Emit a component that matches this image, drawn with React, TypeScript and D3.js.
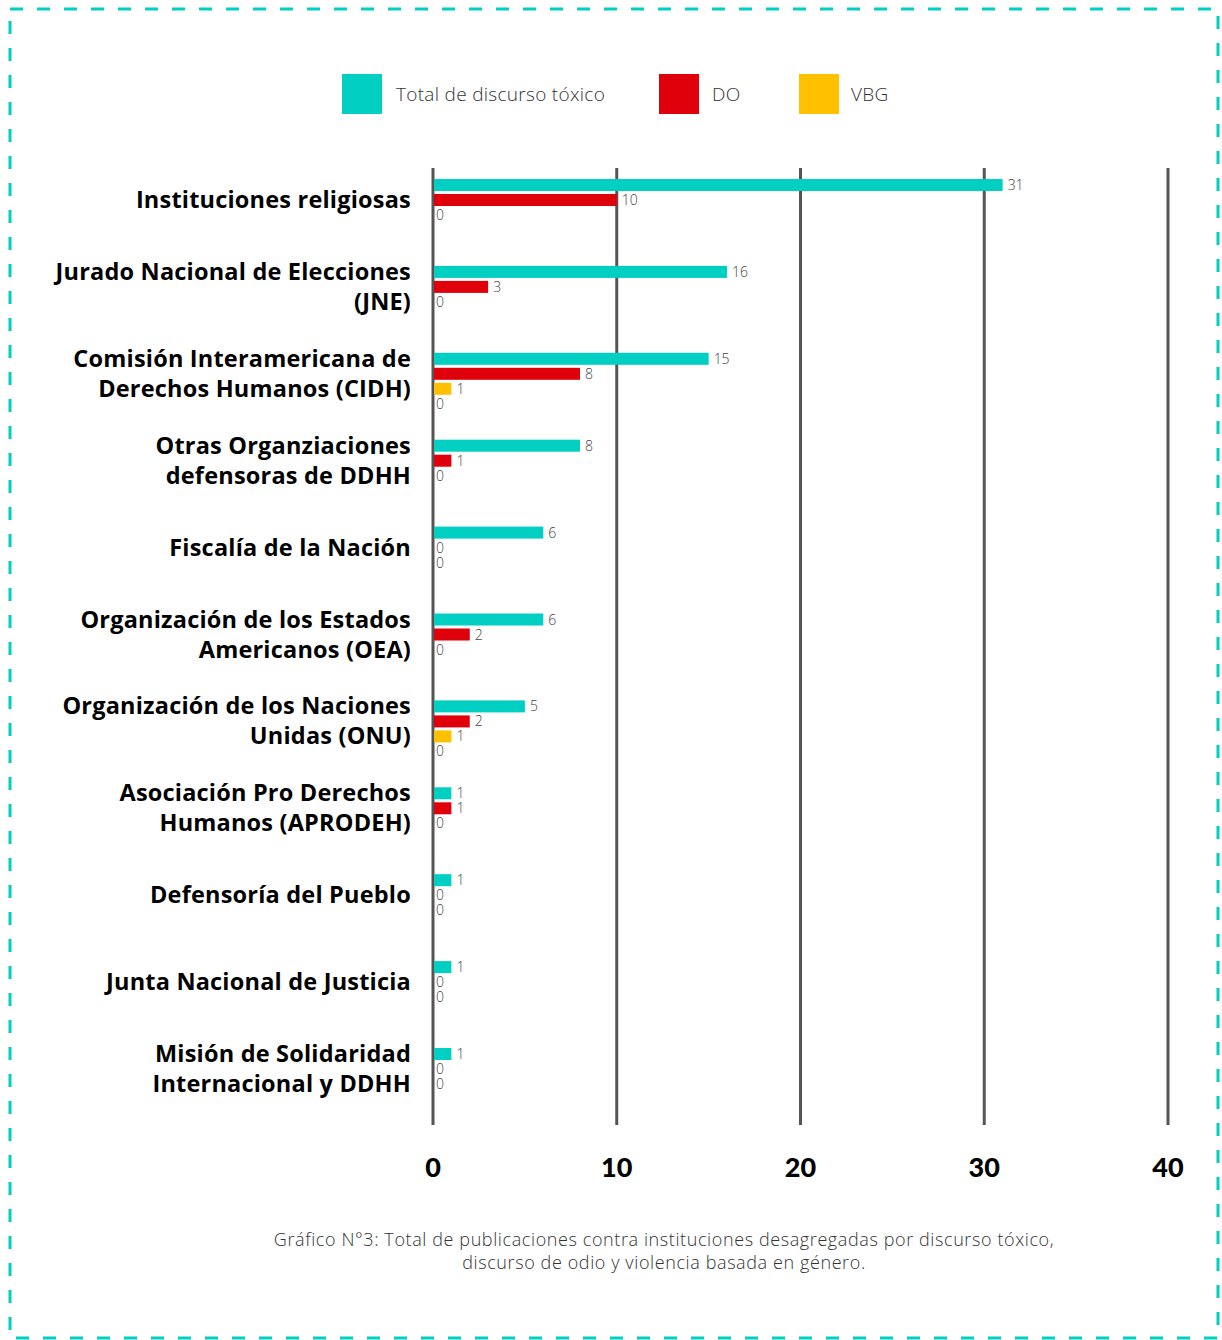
import { useEffect, useRef } from "react";
import * as d3 from "d3";

// categories (each entry is the lines of the label)
const categories = [
  ["Instituciones religiosas"],
  ["Jurado Nacional de Elecciones", "(JNE)"],
  ["Comisión Interamericana de", "Derechos Humanos (CIDH)"],
  ["Otras Organziaciones", "defensoras de DDHH"],
  ["Fiscalía de la Nación"],
  ["Organización de los Estados", "Americanos (OEA)"],
  ["Organización de los Naciones", "Unidas (ONU)"],
  ["Asociación Pro Derechos", "Humanos (APRODEH)"],
  ["Defensoría del Pueblo"],
  ["Junta Nacional de Justicia"],
  ["Misión de Solidaridad", "Internacional y DDHH"],
];

const totalValues = [31, 16, 15, 8, 6, 6, 5, 1, 1, 1, 1];
const doValues = [10, 3, 8, 1, 0, 2, 2, 1, 0, 0, 0];
const vbgValues = [0, 0, 1, 0, 0, 0, 1, 0, 0, 0, 0];
// fourth unnamed row that only appears in some categories
const otherValues = [null, null, 0, null, null, null, 0, null, null, null, null];

const xTicks = [0, 10, 20, 30, 40];

const seriesKeys = ["total", "do", "vbg", "other"];
const seriesColors = {
  total: "#00CFC2",
  do: "#E0000B",
  vbg: "#FFC000",
  other: "#999999",
};

const legendItems = [
  { key: "total", label: "Total de discurso tóxico" },
  { key: "do", label: "DO" },
  { key: "vbg", label: "VBG" },
];

const captionLines = [
  "Gráfico N°3: Total de publicaciones contra instituciones desagregadas por discurso tóxico,",
  "discurso de odio y violencia basada en género.",
];

export default function App() {
  const ref = useRef(null);

  useEffect(() => {
    const width = 1222;
    const height = 1340;
    const font = "'Open Sans', 'DejaVu Sans', sans-serif";
    const tickFont = "Lato, 'DejaVu Sans', sans-serif";

    const root = d3.select(ref.current);
    root.selectAll("*").remove();

    const svg = root
      .append("svg")
      .attr("width", width)
      .attr("height", height)
      .style("position", "absolute")
      .style("left", 0)
      .style("top", 0)
      .style("background", "#fff");

    // dashed frame
    svg
      .append("rect")
      .attr("x", 10)
      .attr("y", 9)
      .attr("width", 1208)
      .attr("height", 1329)
      .attr("fill", "none")
      .attr("stroke", "#00CFC2")
      .attr("stroke-width", 3)
      .attr("stroke-dasharray", "13 14");

    // scales
    const x = d3.scaleLinear().domain([0, 40]).range([433, 1168]);

    const keys = categories.map((c) => c.join(" "));
    const y0 = d3
      .scaleBand()
      .domain(keys)
      .range([179, 179 + 86.9 * categories.length])
      .padding(0);

    const y1 = d3
      .scaleBand()
      .domain(seriesKeys)
      .range([0, 57])
      .paddingInner(0.2)
      .paddingOuter(0);

    // gridlines
    svg
      .append("g")
      .selectAll("line")
      .data(xTicks)
      .join("line")
      .attr("x1", (d) => x(d))
      .attr("x2", (d) => x(d))
      .attr("y1", 168)
      .attr("y2", 1125)
      .attr("stroke", "#555")
      .attr("stroke-width", 3);

    // tick labels
    svg
      .append("g")
      .selectAll("text")
      .data(xTicks)
      .join("text")
      .attr("x", (d) => x(d))
      .attr("y", 1177)
      .attr("text-anchor", "middle")
      .attr("font-family", tickFont)
      .attr("font-weight", 900)
      .attr("font-size", 27)
      .attr("fill", "#000")
      .text((d) => d);

    const rows = categories.map((c, i) => ({
      key: keys[i],
      lines: c,
      values: [
        { s: "total", v: totalValues[i] },
        { s: "do", v: doValues[i] },
        { s: "vbg", v: vbgValues[i] },
        { s: "other", v: otherValues[i] },
      ].filter((d) => d.v !== null),
    }));

    const groups = svg
      .append("g")
      .selectAll("g")
      .data(rows)
      .join("g")
      .attr("transform", (d) => `translate(0,${y0(d.key)})`);

    // bars
    groups
      .selectAll("rect")
      .data((d) => d.values.filter((v) => v.v > 0))
      .join("rect")
      .attr("x", x(0) + 1)
      .attr("y", (d) => y1(d.s))
      .attr("width", (d) => x(d.v) - x(0) - 1)
      .attr("height", y1.bandwidth())
      .attr("fill", (d) => seriesColors[d.s]);

    // value labels
    groups
      .selectAll("text.val")
      .data((d) => d.values)
      .join("text")
      .attr("class", "val")
      .attr("x", (d) => (d.v > 0 ? x(d.v) + 5 : x(0) + 3))
      .attr("y", (d) => y1(d.s) + y1.bandwidth() / 2 + 5)
      .attr("font-family", font)
      .attr("font-weight", 300)
      .attr("font-size", 14)
      .attr("fill", "#444")
      .text((d) => d.v);

    // category labels
    const labelCenter = y1.step() + y1.bandwidth() / 2;
    groups.each(function (d) {
      const g = d3.select(this);
      const n = d.lines.length;
      d.lines.forEach((line, j) => {
        g.append("text")
          .attr("x", 411)
          .attr("y", labelCenter + (j - (n - 1) / 2) * 30 + 8)
          .attr("text-anchor", "end")
          .attr("font-family", font)
          .attr("font-weight", 700)
          .attr("font-size", 23.5)
          .attr("letter-spacing", 0.2)
          .attr("fill", "#000")
          .text(line);
      });
    });

    // legend
    const legendX = [342, 659, 799];
    const legend = svg
      .append("g")
      .selectAll("g")
      .data(legendItems)
      .join("g")
      .attr("transform", (d, i) => `translate(${legendX[i]},74)`);
    legend
      .append("rect")
      .attr("width", 40)
      .attr("height", 40)
      .attr("fill", (d) => seriesColors[d.key]);
    legend
      .append("text")
      .attr("x", (d, i) => (i === 0 ? 54 : i === 1 ? 53 : 52))
      .attr("y", 27)
      .attr("font-family", font)
      .attr("font-weight", 300)
      .attr("font-size", 19)
      .attr("letter-spacing", 0.3)
      .attr("fill", "#333")
      .text((d) => d.label);

    // caption
    svg
      .append("g")
      .selectAll("text")
      .data(captionLines)
      .join("text")
      .attr("x", 664)
      .attr("y", (d, i) => 1246 + i * 23)
      .attr("text-anchor", "middle")
      .attr("font-family", font)
      .attr("font-weight", 300)
      .attr("font-size", 18)
      .attr("letter-spacing", 0.6)
      .attr("fill", "#333")
      .text((d) => d);
  }, []);

  return <div ref={ref}></div>;
}
